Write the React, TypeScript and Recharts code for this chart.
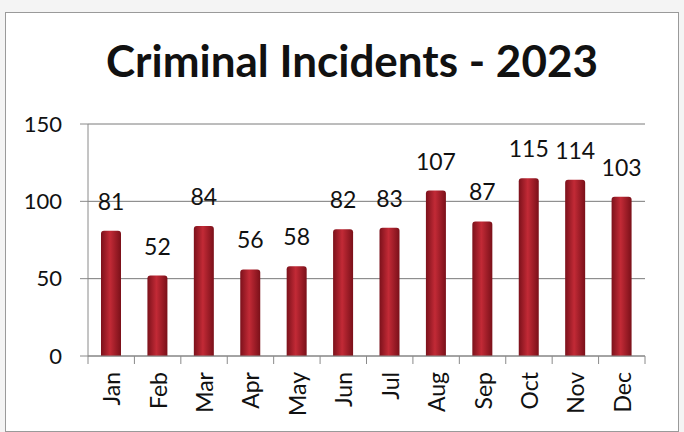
import { BarChart, Bar, XAxis, YAxis, CartesianGrid, LabelList } from 'recharts';

const months = ['Jan', 'Feb', 'Mar', 'Apr', 'May', 'Jun', 'Jul', 'Aug', 'Sep', 'Oct', 'Nov', 'Dec'];
const incidents = [81, 52, 84, 56, 58, 82, 83, 107, 87, 115, 114, 103];
const yTicks = [0, 50, 100, 150];

const data = months.map((month, i) => ({ month, count: incidents[i] }));

const PLOT_LEFT = 88;
const PLOT_RIGHT = 645;
const BAND = (PLOT_RIGHT - PLOT_LEFT) / months.length;
const FONT = 'Lato, "Open Sans", sans-serif';

const MonthTick = ({ x, y, payload, index }: any) => {
  const left = x - BAND / 2;
  return (
    <g>
      <line x1={left} y1={y - 8} x2={left} y2={y} stroke="#8a8a8a" />
      {index === months.length - 1 && (
        <line x1={left + BAND} y1={y - 8} x2={left + BAND} y2={y} stroke="#8a8a8a" />
      )}
      <text
        x={x}
        y={y + 8}
        transform={`rotate(-90, ${x}, ${y + 8})`}
        textAnchor="end"
        dominantBaseline="central"
        fontSize={23}
        fontFamily={FONT}
        fill="#111"
      >
        {payload.value}
      </text>
    </g>
  );
};

export default function App() {
  return (
    <div style={{ position: 'absolute', left: 0, top: 0, width: 684, height: 432, background: '#f4f4f4' }}>
      <div
        style={{
          position: 'absolute',
          left: 5,
          top: 12,
          width: 672,
          height: 418,
          background: '#fff',
          border: '1px solid #9a9a9a',
        }}
      />
      <div
        style={{
          position: 'absolute',
          left: 10,
          top: 34,
          width: 684,
          textAlign: 'center',
          fontFamily: FONT,
          fontWeight: 700,
          fontSize: 44,
          lineHeight: 'normal',
          color: '#111',
        }}
      >
        Criminal Incidents - 2023
      </div>
      <div style={{ position: 'absolute', left: 0, top: 0 }}>
        <BarChart width={684} height={432} data={data} margin={{ top: 124, right: 39, bottom: 0, left: 0 }}>
          <defs>
            <linearGradient id="barFill" x1="0" y1="0" x2="1" y2="0">
              <stop offset="0%" stopColor="#7c111b" />
              <stop offset="45%" stopColor="#c22a36" />
              <stop offset="100%" stopColor="#7a1019" />
            </linearGradient>
          </defs>
          <CartesianGrid vertical={false} stroke="#7a7a7a" />
          <XAxis
            dataKey="month"
            height={76}
            tickLine={false}
            axisLine={{ stroke: '#8a8a8a' }}
            interval={0}
            tick={<MonthTick />}
          />
          <YAxis
            width={88}
            domain={[0, 150]}
            ticks={yTicks}
            tickSize={8}
            tickMargin={18}
            axisLine={{ stroke: '#8a8a8a' }}
            tickLine={{ stroke: '#8a8a8a' }}
            tick={{ fontSize: 22, fill: '#111', fontFamily: FONT }}
          />
          <Bar dataKey="count" fill="url(#barFill)" barSize={20} radius={[3, 3, 0, 0]} isAnimationActive={false}>
            <LabelList dataKey="count" position="top" offset={21} fontSize={23} fill="#111" fontFamily={FONT} />
          </Bar>
        </BarChart>
      </div>
    </div>
  );
}
